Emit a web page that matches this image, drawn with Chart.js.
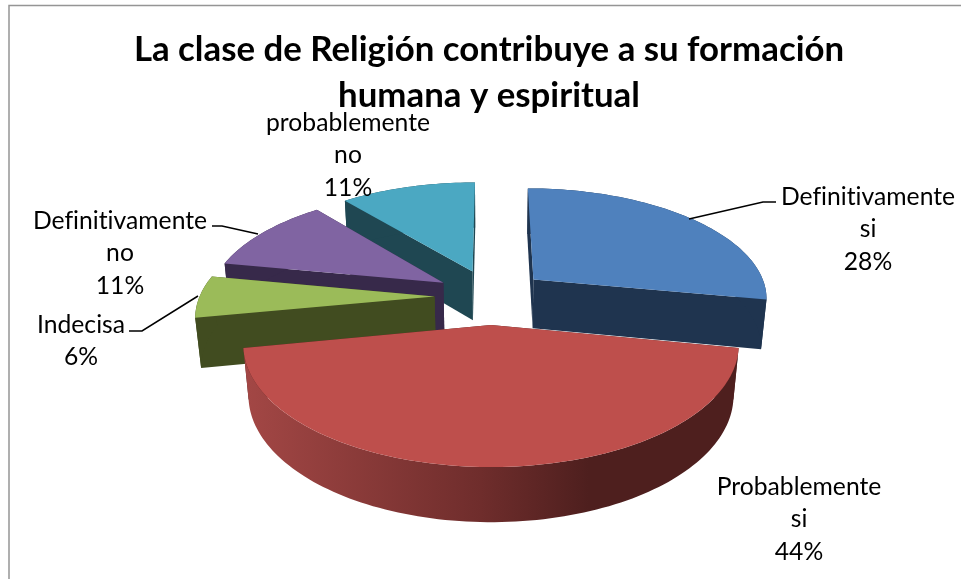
<!DOCTYPE html>
<html lang="es">
<head>
    <meta charset="UTF-8">
    <title>La clase de Religión contribuye a su formación humana y espiritual</title>
    <script src="https://cdn.jsdelivr.net/npm/chart.js"></script>
    <style>
        body { margin: 0; background: #ffffff; }
        canvas { display: block; }
    </style>
</head>
<body>
    <canvas id="pie" width="961" height="579"></canvas>

    <script>
        // Datos
        const titleLines = ['La clase de Religión contribuye a su formación', 'humana y espiritual'];
        const categories = ['Definitivamente si', 'Probablemente si', 'Indecisa', 'Definitivamente no', 'probablemente no'];
        const values = [28, 44, 6, 11, 11];

        // Estilo
        const topColors = ['#4F81BD', '#BE4F4C', '#9BBB59', '#8064A2', '#4BA8C2'];
        const wallColors = ['#1F344F', '#4E1F1E', '#414C20', '#37294A', '#1F4752'];
        const drawOrder = [4, 0, 3, 2, 1]; // de atrás hacia adelante

        // Proyección en perspectiva del disco unidad
        const view = { cx: 491, cy: 296.5, rx: 235, ry: 110, depth: 49.5, persp: 0.155, persp2: 0.02, explodeX: 0.24, explodeY: 0.25 };

        // Posición de las etiquetas y sus líneas guía
        const labelBoxes = [
            { x: 868, y: 197, lead: [[776, 202], [763, 202], [689, 219]] },
            { x: 799, y: 487 },
            { x: 81, y: 325, lead: [[129, 331], [142, 331], [198, 296]] },
            { x: 120, y: 221, lead: [[212, 226], [222, 226], [258, 234]] },
            { x: 348, y: 123 }
        ];
        const labelLineHeight = 32.5;

        function project(X, Y, z) {
            const s = 1 / (1 - view.persp * Y);
            const sx = 1 / (1 - view.persp * Y + view.persp2 * z);
            return [view.cx + view.rx * X * sx, view.cy + view.ry * Y * s + view.depth * z * Math.sqrt(s)];
        }

        function fillPoly(ctx, points, color) {
            ctx.beginPath();
            points.forEach((p, i) => i ? ctx.lineTo(p[0], p[1]) : ctx.moveTo(p[0], p[1]));
            ctx.closePath();
            ctx.fillStyle = color;
            ctx.fill();
        }

        function drawSlice(ctx, arc, index) {
            const start = arc.startAngle, end = arc.endAngle;
            const mid = (start + end) / 2;
            const ox = view.explodeX * Math.cos(mid), oy = view.explodeY * Math.sin(mid);
            const rim = (a, z) => project(ox + Math.cos(a), oy + Math.sin(a), z);
            const apex = z => project(ox, oy, z);

            const steps = Math.ceil((end - start) * 40);
            const angles = [];
            for (let i = 0; i <= steps; i++) angles.push(start + (end - start) * i / steps);

            // Caras radiales, primero la de atrás
            const faces = [start, end].sort((a, b) => Math.sin(a) - Math.sin(b));
            faces.forEach(a => fillPoly(ctx, [apex(0), rim(a, 0), rim(a, 1), apex(1)], wallColors[index]));

            // Pared exterior
            let wall = wallColors[index];
            if (index === 1) {
                wall = ctx.createLinearGradient(245, 0, 736, 0);
                wall.addColorStop(0, '#A34745');
                wall.addColorStop(0.48, '#6F2D2C');
                wall.addColorStop(0.7, '#4E1F1E');
                wall.addColorStop(1, '#4E1F1E');
            }
            const outer = angles.map(a => rim(a, 0)).concat(angles.slice().reverse().map(a => rim(a, 1)));
            fillPoly(ctx, outer, wall);

            // Cara superior
            fillPoly(ctx, [apex(0)].concat(angles.map(a => rim(a, 0))), topColors[index]);
        }

        const pie3d = {
            id: 'pie3d',
            beforeDatasetDraw(chart) {
                const arcs = chart.getDatasetMeta(0).data;
                drawOrder.forEach(i => drawSlice(chart.ctx, arcs[i], i));
                return false;
            },
            afterDraw(chart) {
                const ctx = chart.ctx;
                ctx.save();

                // Marco
                ctx.strokeStyle = '#959595';
                ctx.lineWidth = 1.5;
                ctx.beginPath();
                ctx.moveTo(9, 579);
                ctx.lineTo(9, 5.5);
                ctx.lineTo(961, 5.5);
                ctx.stroke();

                // Etiquetas
                ctx.font = '24.7px Lato';
                ctx.letterSpacing = '0.01px'; // sin ligaduras
                ctx.fillStyle = '#000000';
                ctx.textAlign = 'center';
                ctx.textBaseline = 'middle';
                ctx.strokeStyle = '#000000';
                ctx.lineWidth = 1.5;
                categories.forEach((name, i) => {
                    const box = labelBoxes[i];
                    const lines = name.split(' ').concat(values[i] + '%');
                    lines.forEach((line, j) => ctx.fillText(line, box.x, box.y + j * labelLineHeight));
                    if (box.lead) {
                        ctx.beginPath();
                        box.lead.forEach((p, j) => j ? ctx.lineTo(p[0], p[1]) : ctx.moveTo(p[0], p[1]));
                        ctx.stroke();
                    }
                });
                ctx.restore();
            }
        };

        new Chart(document.getElementById('pie'), {
            type: 'pie',
            data: {
                labels: categories,
                datasets: [{ data: values, backgroundColor: topColors, borderWidth: 0 }]
            },
            options: {
                responsive: false,
                animation: false,
                events: [],
                layout: { padding: { left: 17 } },
                plugins: {
                    legend: { display: false },
                    tooltip: { enabled: false },
                    title: {
                        display: true,
                        text: titleLines,
                        color: '#000000',
                        font: { family: 'Lato', size: 34.8, weight: 'bold', lineHeight: 1.325 },
                        padding: { top: 27, bottom: 0 }
                    }
                }
            },
            plugins: [pie3d]
        });
    </script>
</body>
</html>
